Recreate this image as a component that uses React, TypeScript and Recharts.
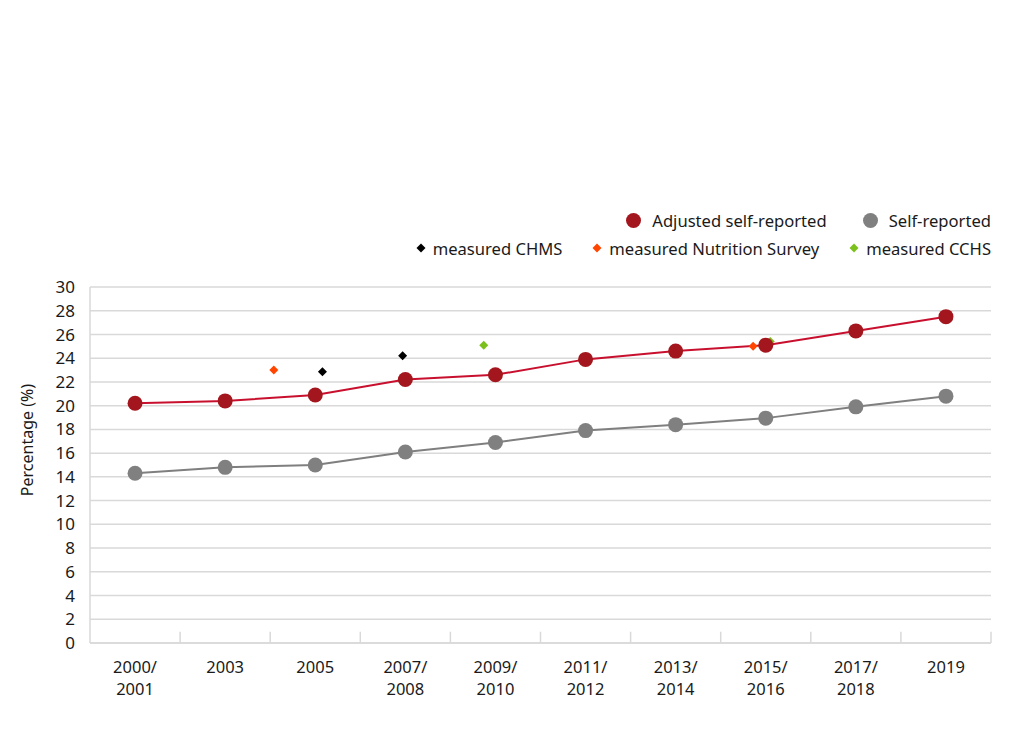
import React from 'react';
import {
  ComposedChart,
  Line,
  Scatter,
  XAxis,
  YAxis,
  CartesianGrid,
  ReferenceLine,
  Legend,
} from 'recharts';

// ---- data ----
const categories = [
  '2000/\n2001',
  '2003',
  '2005',
  '2007/\n2008',
  '2009/\n2010',
  '2011/\n2012',
  '2013/\n2014',
  '2015/\n2016',
  '2017/\n2018',
  '2019',
];
const adjustedSelfReported = [20.2, 20.4, 20.9, 22.2, 22.6, 23.9, 24.6, 25.1, 26.3, 27.5];
const selfReported = [14.3, 14.8, 15.0, 16.1, 16.9, 17.9, 18.4, 18.95, 19.9, 20.8];

// measured points: position on the category axis (index units) and value
const chmsPos = [2.08, 2.97];
const chmsVal = [22.85, 24.2];
const nutritionPos = [1.54, 6.86];
const nutritionVal = [23.0, 25.0];
const cchsPos = [3.87, 7.05];
const cchsVal = [25.1, 25.4];

const yTicks = [0, 2, 4, 6, 8, 10, 12, 14, 16, 18, 20, 22, 24, 26, 28, 30];

// ---- styles ----
const FONT = '"Noto Sans", sans-serif';
const RED_LINE = '#c8102e';
const RED_DOT = '#a3161d';
const GRAY_LINE = '#7f7f7f';
const GRAY_DOT = '#808080';
const ORANGE = '#ff4500';
const BLACK = '#000000';
const GREEN = '#7cc01e';
const GRID = '#d9d9d9';
const TEXT = '#1a1a1a';

const adjData = categories.map((_, i) => ({ x: i, y: adjustedSelfReported[i] }));
const selfData = categories.map((_, i) => ({ x: i, y: selfReported[i] }));
const chmsData = chmsPos.map((p, i) => ({ x: p, y: chmsVal[i] }));
const nutritionData = nutritionPos.map((p, i) => ({ x: p, y: nutritionVal[i] }));
const cchsData = cchsPos.map((p, i) => ({ x: p, y: cchsVal[i] }));
const catTicks = categories.map((_, i) => i);
const boundaries = categories.map((_, i) => i + 0.5);

const makeDiamond = (color: string, r: number) => (props: any) => {
  const { cx, cy } = props;
  if (cx == null || cy == null) return <g />;
  return (
    <polygon
      points={`${cx},${cy - r} ${cx + r},${cy} ${cx},${cy + r} ${cx - r},${cy}`}
      fill={color}
    />
  );
};

const XTick = (props: any) => {
  const { x, y, payload } = props;
  const lines = String(categories[payload.value] ?? '').split('\n');
  return (
    <g>
      {lines.map((l, i) => (
        <text
          key={i}
          x={x}
          y={y + 30 + i * 22}
          textAnchor="middle"
          fill={TEXT}
          fontSize={16.5}
          fontFamily={FONT}
        >
          {l}
        </text>
      ))}
    </g>
  );
};

const YLabel = (props: any) => {
  const { viewBox } = props;
  const cx = viewBox.x + 27;
  const cy = viewBox.y + viewBox.height / 2 - 25;
  return (
    <text
      x={cx}
      y={cy}
      transform={`rotate(-90, ${cx}, ${cy})`}
      textAnchor="middle"
      dominantBaseline="central"
      fill={TEXT}
      fontSize={16}
      fontFamily={FONT}
    >
      Percentage (%)
    </text>
  );
};

const legendRow1 = [
  { label: 'Adjusted self-reported', color: RED_DOT, type: 'circle' },
  { label: 'Self-reported', color: GRAY_DOT, type: 'circle' },
];
const legendRow2 = [
  { label: 'measured CHMS', color: BLACK, type: 'diamond' },
  { label: 'measured Nutrition Survey', color: ORANGE, type: 'diamond' },
  { label: 'measured CCHS', color: GREEN, type: 'diamond' },
];

const LegendIcon = ({ type, color }: { type: string; color: string }) =>
  type === 'circle' ? (
    <svg width={15} height={15} style={{ marginRight: 11 }}>
      <circle cx={7.5} cy={7.5} r={7.5} fill={color} />
    </svg>
  ) : (
    <svg width={10} height={10} style={{ marginRight: 7 }}>
      <polygon points="5,0.5 9.5,5 5,9.5 0.5,5" fill={color} />
    </svg>
  );

const renderLegend = () => (
  <div
    style={{
      height: 87,
      fontFamily: FONT,
      fontSize: 16.6,
      color: TEXT,
      display: 'flex',
      flexDirection: 'column',
      alignItems: 'flex-end',
    }}
  >
    {[legendRow1, legendRow2].map((row, ri) => (
      <div
        key={ri}
        style={{
          display: 'flex',
          alignItems: 'center',
          height: 28,
          marginTop: ri === 0 ? 6 : 0,
        }}
      >
        {row.map((it, i) => (
          <div
            key={it.label}
            style={{
              display: 'flex',
              alignItems: 'center',
              marginLeft: i === 0 ? 0 : ri === 0 ? 36 : 30,
            }}
          >
            <LegendIcon type={it.type} color={it.color} />
            <span style={{ whiteSpace: 'nowrap' }}>{it.label}</span>
          </div>
        ))}
      </div>
    ))}
  </div>
);

export default function App() {
  return (
    <div style={{ width: 1012, height: 750 }}>
      <style>{`body{margin:0;}`}</style>
      <ComposedChart
        width={1012}
        height={750}
        margin={{ top: 200, right: 21, left: 0, bottom: 0 }}
      >
        <Legend verticalAlign="top" align="right" content={renderLegend} />
        <CartesianGrid vertical={false} stroke={GRID} strokeWidth={1.5} />
        <XAxis
          type="number"
          dataKey="x"
          domain={[-0.5, 9.5]}
          ticks={catTicks}
          interval={0}
          allowDataOverflow
          height={107}
          axisLine={{ stroke: GRID, strokeWidth: 1.5 }}
          tickLine={false}
          tickSize={0}
          tickMargin={0}
          tick={<XTick />}
        />
        <YAxis
          type="number"
          dataKey="y"
          domain={[0, 30]}
          ticks={yTicks}
          interval={0}
          width={90}
          axisLine={{ stroke: GRID, strokeWidth: 1.5 }}
          tickLine={false}
          tickSize={0}
          tickMargin={15}
          tick={{ fill: TEXT, fontSize: 17, fontFamily: FONT }}
          label={<YLabel />}
        />
        {boundaries.map((b) => (
          <ReferenceLine
            key={b}
            segment={[
              { x: b, y: 0 },
              { x: b, y: 0.95 },
            ]}
            stroke={GRID}
            strokeWidth={1.5}
          />
        ))}
        <Line
          data={selfData}
          dataKey="y"
          name="Self-reported"
          stroke={GRAY_LINE}
          strokeWidth={2}
          dot={{ r: 7.5, fill: GRAY_DOT, stroke: 'none' }}
          activeDot={false}
          isAnimationActive={false}
        />
        <Line
          data={adjData}
          dataKey="y"
          name="Adjusted self-reported"
          stroke={RED_LINE}
          strokeWidth={2}
          dot={{ r: 7.5, fill: RED_DOT, stroke: 'none' }}
          activeDot={false}
          isAnimationActive={false}
        />
        <Scatter
          data={chmsData}
          dataKey="y"
          name="measured CHMS"
          shape={makeDiamond(BLACK, 4.5)}
          isAnimationActive={false}
        />
        <Scatter
          data={nutritionData}
          dataKey="y"
          name="measured Nutrition Survey"
          shape={makeDiamond(ORANGE, 4.5)}
          isAnimationActive={false}
        />
        <Scatter
          data={cchsData}
          dataKey="y"
          name="measured CCHS"
          shape={makeDiamond(GREEN, 4.5)}
          isAnimationActive={false}
        />
      </ComposedChart>
    </div>
  );
}
